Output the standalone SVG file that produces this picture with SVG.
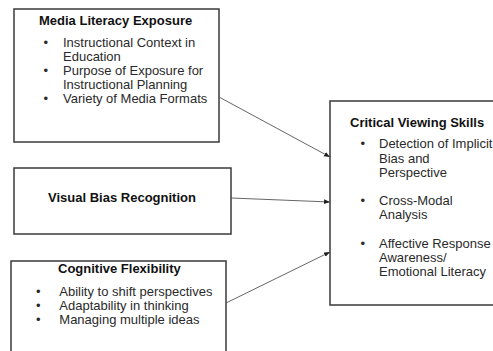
<svg xmlns="http://www.w3.org/2000/svg" width="493" height="351" viewBox="0 0 493 351">
<defs>
<style>
.box{fill:#fff;stroke:#3a3a3a;stroke-width:1.5}
.t{font-family:"Liberation Sans",Arial,sans-serif;font-size:13px;fill:#2a2a2a}
.h{font-family:"Liberation Sans",Arial,sans-serif;font-size:13px;font-weight:bold;fill:#111}
.c{stroke:#555;stroke-width:0.9;fill:none}
</style>
<marker id="ar" viewBox="0 0 10 10" refX="10" refY="5" markerWidth="6" markerHeight="6" orient="auto" markerUnits="userSpaceOnUse">
<path d="M0,1 L10,5 L0,9 z" fill="#222"/>
</marker>
</defs>
<rect width="493" height="351" fill="#fff"/>
<g id="n1">
<rect class="box" x="14" y="9" width="205" height="133"/>
<text class="h" x="39" y="24.5">Media Literacy Exposure</text>
<text class="t" x="43.4" y="46.7">•</text><text class="t" x="63" y="46.7">Instructional Context in</text>
<text class="t" x="63" y="60.5">Education</text>
<text class="t" x="43.4" y="75">•</text><text class="t" x="63" y="75">Purpose of Exposure for</text>
<text class="t" x="63" y="89">Instructional Planning</text>
<text class="t" x="43.4" y="102.7">•</text><text class="t" x="63" y="102.7">Variety of Media Formats</text>
</g>
<g id="n2">
<rect class="box" x="14" y="168" width="217" height="66"/>
<text class="h" x="122" y="201.5" text-anchor="middle">Visual Bias Recognition</text>
</g>
<g id="n3">
<rect class="box" x="11" y="261" width="215" height="100"/>
<text class="h" x="58" y="273.3">Cognitive Flexibility</text>
<text class="t" x="36" y="295.7">•</text><text class="t" x="59.3" y="295.7">Ability to shift perspectives</text>
<text class="t" x="36" y="309.5">•</text><text class="t" x="59.3" y="309.5">Adaptability in thinking</text>
<text class="t" x="36" y="324">•</text><text class="t" x="59.3" y="324">Managing multiple ideas</text>
</g>
<g id="n4">
<rect class="box" x="330" y="101" width="175" height="204"/>
<text class="h" x="350" y="126.7">Critical Viewing Skills</text>
<text class="t" x="360.4" y="148.3">•</text><text class="t" x="379" y="148.3">Detection of Implicit</text>
<text class="t" x="379" y="162.5">Bias and</text>
<text class="t" x="379" y="176.7">Perspective</text>
<text class="t" x="360.4" y="205">•</text><text class="t" x="379" y="205">Cross-Modal</text>
<text class="t" x="379" y="219.3">Analysis</text>
<text class="t" x="360.4" y="248">•</text><text class="t" x="379" y="248">Affective Response</text>
<text class="t" x="379" y="262">Awareness/</text>
<text class="t" x="379" y="276">Emotional Literacy</text>
</g>
<g id="connectors">
<line class="c" x1="219" y1="97" x2="330" y2="157" marker-end="url(#ar)"/>
<line class="c" x1="231" y1="198" x2="330" y2="202" marker-end="url(#ar)"/>
<line class="c" x1="226" y1="303" x2="330" y2="252" marker-end="url(#ar)"/>
</g>
</svg>
